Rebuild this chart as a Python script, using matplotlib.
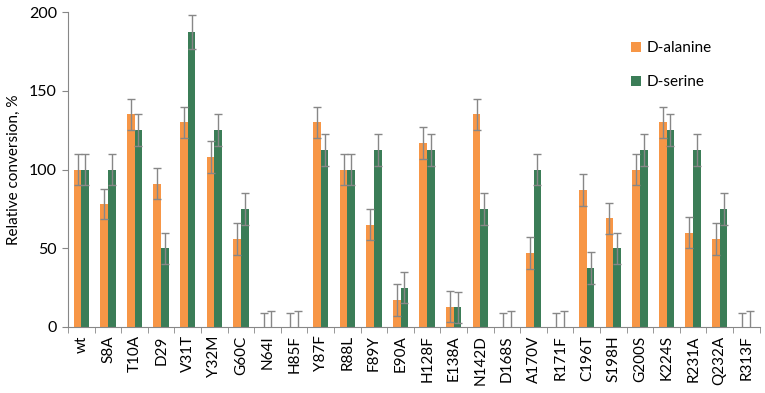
import numpy as np
import matplotlib
matplotlib.use('Agg')
import matplotlib.pyplot as plt


OUTPUT_PATH = 'out.png'

mutants = ['wt', 'S8A', 'T10A', 'D29', 'V31T', 'Y32M', 'G60C', 'N64I', 'H85F',
           'Y87F', 'R88L', 'F89Y', 'E90A', 'H128F', 'E138A', 'N142D', 'D168S',
           'A170V', 'R171F', 'C196T', 'S198H', 'G200S', 'K224S', 'R231A',
           'Q232A', 'R313F']

d_alanine = [100, 78, 135, 91, 130, 108, 56, 0, 0, 130, 100, 65, 17, 117, 13,
             135, 0, 47, 0, 87, 69, 100, 130, 60, 56, 0]
d_alanine_err = [10, 9.5, 10, 10, 10, 10, 10, 9, 9, 10, 10, 10, 10, 10, 10,
                 10, 9, 10, 9, 10, 10, 10, 10, 10, 10, 9]

d_serine = [100, 100, 125, 50, 187.5, 125, 75, 0, 0, 112.5, 100, 112.5, 25,
            112.5, 12.5, 75, 0, 100, 0, 37.5, 50, 112.5, 125, 112.5, 75, 0]
d_serine_err = [10, 10, 10, 10, 11, 10, 10, 10, 10, 10, 10, 10, 10, 10, 10,
                10, 10, 10, 10, 10, 10, 10, 10, 10, 10, 10]

ORANGE = '#F79646'
GREEN = '#3B7D57'
GREY = '#878787'


def main():
    plt.rcParams['font.family'] = ['Lato', 'DejaVu Sans']

    fig = plt.figure(figsize=(7.65, 3.93), dpi=100)
    ax = fig.add_axes([0.089, 0.168, 0.904, 0.801])

    x = np.arange(len(mutants))
    w = 0.29
    err_kw = dict(ecolor=GREY, elinewidth=1.0, capsize=3, capthick=1.0)

    ax.bar(x - w / 2, d_alanine, w, yerr=d_alanine_err, color=ORANGE,
           label='D-alanine', error_kw=err_kw, zorder=2)
    ax.bar(x + w / 2, d_serine, w, yerr=d_serine_err, color=GREEN,
           label='D-serine', error_kw=err_kw, zorder=2)

    ax.set_xlim(-0.5, len(mutants) - 0.5)
    ax.set_ylim(0, 200)
    ax.set_yticks([0, 50, 100, 150, 200])
    ax.set_ylabel('Relative conversion, %', fontsize=11, labelpad=6)

    # category labels at centres, tick marks at the boundaries
    ax.set_xticks(x)
    ax.set_xticklabels(mutants, rotation=90, fontsize=11)
    ax.tick_params(axis='x', which='major', length=0, pad=6)
    ax.set_xticks(np.arange(len(mutants) + 1) - 0.5, minor=True)
    ax.tick_params(axis='x', which='minor', length=4, color=GREY, direction='out')
    ax.tick_params(axis='y', labelsize=11.5, length=4, color=GREY, pad=4)

    for side in ['top', 'right']:
        ax.spines[side].set_visible(False)
    for side in ['left', 'bottom']:
        ax.spines[side].set_color(GREY)

    ax.legend(loc='upper left', bbox_to_anchor=(0.807, 0.93),
              bbox_transform=fig.transFigure, frameon=False, fontsize=11,
              handlelength=0.65, handleheight=0.65, handletextpad=0.35,
              labelspacing=1.3)

    fig.savefig(OUTPUT_PATH, dpi=100)
    plt.close(fig)


if __name__ == '__main__':
    main()
